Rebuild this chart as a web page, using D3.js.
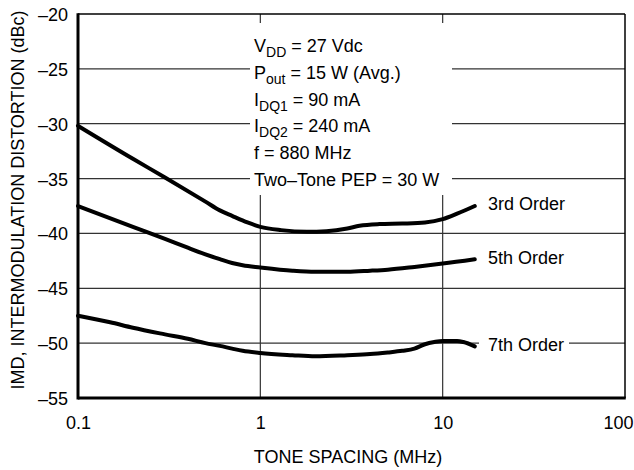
<!DOCTYPE html>
<html>
<head>
<meta charset="utf-8">
<script src="https://cdn.jsdelivr.net/npm/d3@7"></script>
<style>
  body { margin: 0; background: #fff; }
  text { font-family: "Liberation Sans", Arial, sans-serif; fill: #000; }
</style>
</head>
<body>
<svg id="chart" width="634" height="470"></svg>
<script>
// tone spacing (MHz) and IMD (dBc)
var third_x = [0.1, 0.2, 0.3, 0.5, 0.6, 0.7, 0.85, 1.0, 1.3, 1.8, 2.3, 3.0, 3.5, 4.5, 6, 8, 10, 12, 15];
var third_y = [-30.2, -33.2, -34.9, -37.1, -37.9, -38.4, -39.0, -39.4, -39.7, -39.85, -39.8, -39.55, -39.3, -39.15, -39.1, -39.0, -38.7, -38.2, -37.5];

var fifth_x = [0.1, 0.2, 0.3, 0.4, 0.5, 0.6, 0.7, 0.8, 1.0, 1.5, 2.0, 3.0, 4.0, 5.0, 7.0, 10, 15];
var fifth_y = [-37.5, -39.4, -40.5, -41.3, -41.9, -42.35, -42.7, -42.9, -43.1, -43.4, -43.5, -43.5, -43.4, -43.3, -43.05, -42.75, -42.35];

var seventh_x = [0.1, 0.15, 0.2, 0.3, 0.4, 0.5, 0.6, 0.7, 0.8, 1.0, 1.5, 2.0, 3.0, 4.0, 5.0, 6.0, 7.0, 8.0, 9.0, 10, 12, 13, 15];
var seventh_y = [-47.5, -48.1, -48.6, -49.2, -49.6, -50.0, -50.25, -50.5, -50.7, -50.9, -51.1, -51.2, -51.1, -51.0, -50.85, -50.7, -50.5, -50.1, -49.9, -49.8, -49.8, -49.9, -50.3];

var series_names = ["3rd Order", "5th Order", "7th Order"];

var x_ticks = [0.1, 1, 10, 100];
var y_ticks = [-55, -50, -45, -40, -35, -30, -25, -20];

var svg = d3.select("#chart");
svg.append("rect").attr("width", 634).attr("height", 470).attr("fill", "#fff");

// plot edges ("top" is taken by window.top)
var pl = 78, pr = 625, pt = 14, pb = 398;

var x = d3.scaleLog().domain([0.1, 100]).range([pl, pr]);
var y = d3.scaleLinear().domain([-55, -20]).range([pb, pt]);

// grid
svg.append("g").selectAll("line")
  .data(y_ticks.filter(function(d){ return d > -55 && d < -20; }))
  .enter().append("line")
  .attr("x1", pl).attr("x2", pr)
  .attr("y1", function(d){ return y(d); }).attr("y2", function(d){ return y(d); })
  .attr("stroke", "#333").attr("stroke-width", 1.2);

svg.append("g").selectAll("line")
  .data([1, 10])
  .enter().append("line")
  .attr("x1", function(d){ return x(d); }).attr("x2", function(d){ return x(d); })
  .attr("y1", pt).attr("y2", pb)
  .attr("stroke", "#333").attr("stroke-width", 1.2);

// white box behind the conditions text
svg.append("rect").attr("x", 250).attr("y", 23).attr("width", 202).attr("height", 172).attr("fill", "#fff");

// frame
svg.append("line").attr("x1", pl).attr("x2", pr).attr("y1", pt).attr("y2", pt).attr("stroke", "#000").attr("stroke-width", 1.5);
svg.append("line").attr("x1", pr).attr("x2", pr).attr("y1", pt).attr("y2", pb).attr("stroke", "#000").attr("stroke-width", 1.5);

// curves
var line = d3.line()
  .x(function(d){ return x(d[0]); })
  .y(function(d){ return y(d[1]); })
  .curve(d3.curveMonotoneX);

var all = [d3.zip(third_x, third_y), d3.zip(fifth_x, fifth_y), d3.zip(seventh_x, seventh_y)];

svg.append("g").selectAll("path")
  .data(all)
  .enter().append("path")
  .attr("d", line)
  .attr("fill", "none")
  .attr("stroke", "#000")
  .attr("stroke-width", 4)
  .attr("stroke-linecap", "round");

svg.append("line").attr("x1", pl).attr("x2", pl).attr("y1", pt - 0.75).attr("y2", pb + 1.5).attr("stroke", "#000").attr("stroke-width", 3);
svg.append("line").attr("x1", pl).attr("x2", pr + 0.75).attr("y1", pb).attr("y2", pb).attr("stroke", "#000").attr("stroke-width", 3);

// axes (labels only)
var yAxis = svg.append("g")
  .attr("transform", "translate(" + pl + ",0)")
  .call(d3.axisLeft(y).tickValues(y_ticks).tickSize(0).tickPadding(10)
    .tickFormat(function(d){ return "\u2013" + Math.abs(d); }));
yAxis.select(".domain").remove();
yAxis.selectAll("text").style("font-size", "18px").attr("dy", "0.36em")
  .style("font-family", "'Liberation Sans', Arial, sans-serif");

var xAxis = svg.append("g")
  .attr("transform", "translate(0," + pb + ")")
  .call(d3.axisBottom(x).tickValues(x_ticks).tickSize(0).tickFormat(function(d){ return d; }));
xAxis.select(".domain").remove();
xAxis.selectAll("text").style("font-size", "18px").attr("y", 31).attr("dy", 0)
  .style("font-family", "'Liberation Sans', Arial, sans-serif");
// last label sits against the page edge
xAxis.selectAll("text").filter(function(d){ return d == 100; })
  .attr("text-anchor", "end").attr("x", 633 - pr);

// axis titles
svg.append("text")
  .attr("x", 348).attr("y", 463)
  .attr("text-anchor", "middle")
  .style("font-size", "18px")
  .text("TONE SPACING (MHz)");

svg.append("text")
  .attr("transform", "translate(24,200) rotate(-90)")
  .attr("text-anchor", "middle")
  .style("font-size", "18px")
  .text("IMD, INTERMODULATION DISTORTION (dBc)");

// series labels
var label_y = [-37.3, -42.2, -50.1];
svg.append("rect").attr("x", 479).attr("y", y(-50.1) - 12).attr("width", 90).attr("height", 24).attr("fill", "#fff");
svg.append("g").selectAll("text")
  .data(series_names)
  .enter().append("text")
  .attr("x", 488)
  .attr("y", function(d, i){ return y(label_y[i]); })
  .attr("dy", "0.36em")
  .style("font-size", "18px")
  .text(function(d){ return d; });

// conditions text
var cond = [
  [["V", ""], ["DD", "sub"], [" = 27 Vdc", ""]],
  [["P", ""], ["out", "sub"], [" = 15 W (Avg.)", ""]],
  [["I", ""], ["DQ1", "sub"], [" = 90 mA", ""]],
  [["I", ""], ["DQ2", "sub"], [" = 240 mA", ""]],
  [["f = 880 MHz", ""]],
  [["Two\u2013Tone PEP = 30 W", ""]]
];
cond.forEach(function(row, i){
  var t = svg.append("text").attr("x", 254).attr("y", 52 + i * 26.8).style("font-size", "18px");
  row.forEach(function(part, j){
    var s = t.append("tspan").text(part[0]);
    if (part[1] == "sub") s.style("font-size", "14px").attr("dy", 5);
    else if (j > 0) s.attr("dy", -5);
  });
});
</script>
</body>
</html>
